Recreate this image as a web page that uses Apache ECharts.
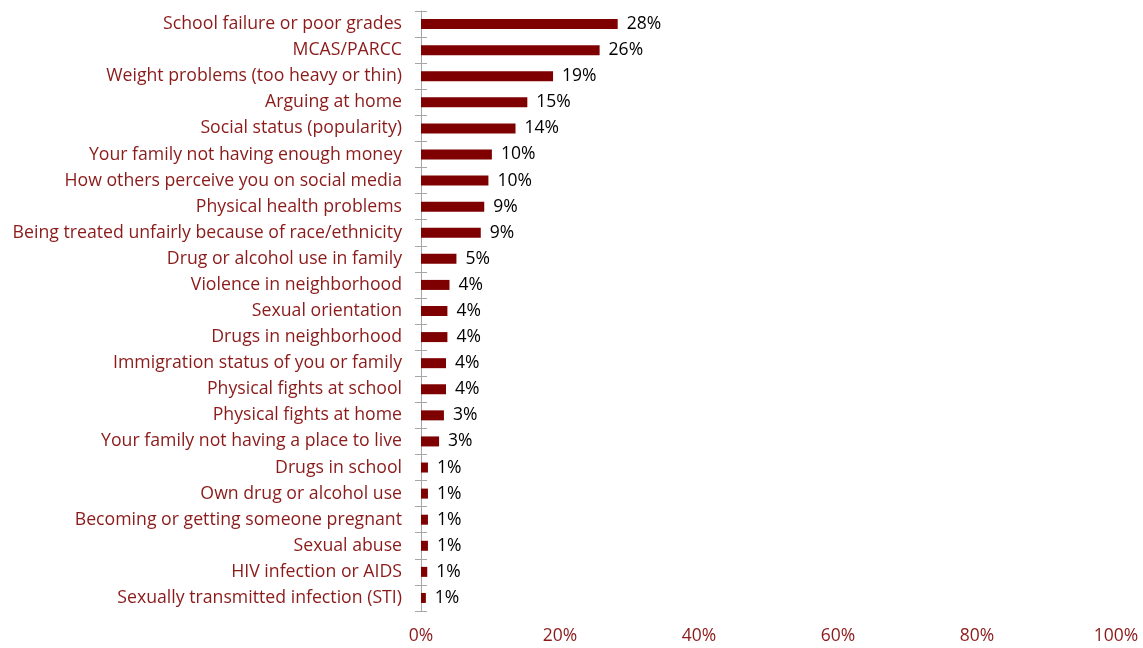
<!DOCTYPE html>
<html>
<head>
<meta charset="utf-8">
<script src="https://cdn.jsdelivr.net/npm/echarts@6/dist/echarts.min.js"></script>
<style>
html,body{margin:0;padding:0;background:#fff;}
#chart{width:1143px;height:648px;}
</style>
</head>
<body>
<div id="chart"></div>
<script>
const categories = [
  "School failure or poor grades",
  "MCAS/PARCC",
  "Weight problems (too heavy or thin)",
  "Arguing at home",
  "Social status (popularity)",
  "Your family not having enough money",
  "How others perceive you on social media",
  "Physical health problems",
  "Being treated unfairly because of race/ethnicity",
  "Drug or alcohol use in family",
  "Violence in neighborhood",
  "Sexual orientation",
  "Drugs in neighborhood",
  "Immigration status of you or family",
  "Physical fights at school",
  "Physical fights at home",
  "Your family not having a place to live",
  "Drugs in school",
  "Own drug or alcohol use",
  "Becoming or getting someone pregnant",
  "Sexual abuse",
  "HIV infection or AIDS",
  "Sexually transmitted infection (STI)"
];
const values = [28.3, 25.7, 19.0, 15.3, 13.6, 10.2, 9.7, 9.1, 8.6, 5.1, 4.1, 3.8, 3.8, 3.6, 3.6, 3.3, 2.6, 1.0, 1.0, 1.0, 1.0, 0.9, 0.7];
const xTicks = [0, 20, 40, 60, 80, 100];

const labelFont = '"Open Sans", sans-serif';
const red = '#7F0000';
const textRed = '#8B1A1A';

const chart = echarts.init(document.getElementById('chart'), null, {renderer: 'canvas'});
chart.setOption({
  animation: false,
  backgroundColor: '#fff',
  grid: {left: 421, right: 27, top: 11, bottom: 37, containLabel: false},
  xAxis: {
    type: 'value',
    min: xTicks[0],
    max: xTicks[xTicks.length - 1],
    interval: 20,
    axisLine: {show: false},
    axisTick: {show: false},
    splitLine: {show: false},
    axisLabel: {
      color: textRed,
      fontFamily: labelFont,
      fontSize: 17.5,
      margin: 16,
      formatter: v => v + '%'
    }
  },
  yAxis: [
    {
      type: 'category',
      data: categories,
      inverse: true,
      position: 'left',
      axisLine: {show: true, lineStyle: {color: '#a6a6a6', width: 1}},
      axisTick: {show: true, length: 6, inside: false, lineStyle: {color: '#a6a6a6'}},
      axisLabel: {color: textRed, fontFamily: labelFont, fontSize: 17.7, margin: 19}
    },
    {
      type: 'category',
      data: categories,
      inverse: true,
      position: 'left',
      offset: 0,
      axisLine: {show: false},
      axisTick: {show: true, length: 6, inside: true, lineStyle: {color: '#a6a6a6'}},
      axisLabel: {show: false}
    }
  ],
  series: [{
    type: 'bar',
    yAxisIndex: 0,
    data: values,
    barWidth: 10,
    itemStyle: {color: red},
    label: {
      show: true,
      position: 'right',
      distance: 9,
      color: '#000',
      fontFamily: labelFont,
      fontSize: 17.5,
      formatter: p => Math.round(p.value) + '%'
    }
  }]
});
</script>
</body>
</html>
